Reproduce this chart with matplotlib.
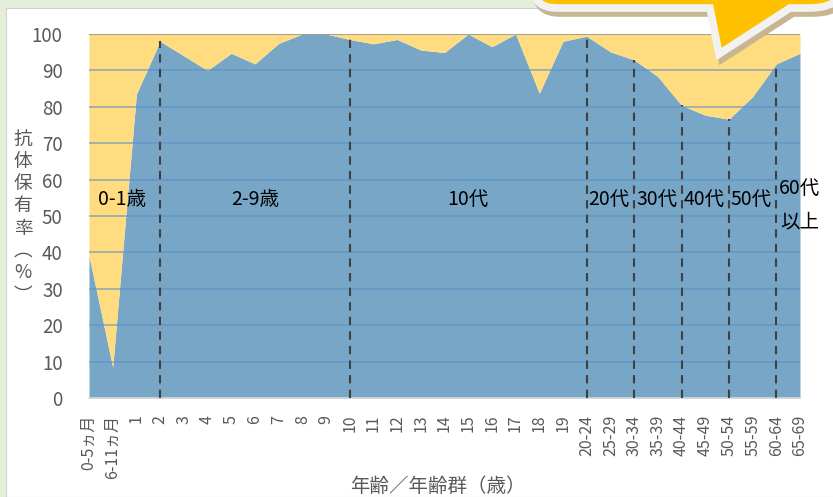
import matplotlib
matplotlib.use("Agg")
import matplotlib.pyplot as plt
from matplotlib.path import Path
from matplotlib.patches import PathPatch, Rectangle

plt.rcParams['font.family'] = ['Noto Sans CJK JP', 'DejaVu Sans']

# age groups on the x axis
ages = ["0-5ヵ月", "6-11ヵ月"] + [str(i) for i in range(1, 20)] + [
    "20-24", "25-29", "30-34", "35-39", "40-44",
    "45-49", "50-54", "55-59", "60-64", "65-69"]

# antibody positive rate (%)
rate = [39, 8.5, 83.5, 98, 94, 90, 94.7, 91.8, 97.4, 100, 100,
        98.5, 97.3, 98.5, 95.6, 94.9, 100, 96.5, 100, 83.7, 98,
        99.4, 95.1, 92.9, 88.3, 80.4, 77.7, 76.6, 82.8, 91.8, 94.7]

# group boundaries (index into ages) for the dashed drop lines
bounds = [3, 11, 21, 23, 25, 27, 29]

# group labels: (text, x position in category units, y value)
groups = [("0-1歳", 1.4, 54.5), ("2-9歳", 7.0, 54.5), ("10代", 16.0, 54.5),
          ("20代", 21.95, 54.5), ("30代", 23.95, 54.5), ("40代", 25.95, 54.5),
          ("50代", 27.95, 54.5), ("60代", 30.0, 57.5), ("以上", 30.0, 48.5)]

W, H = 833, 497
BLUE = "#78A6C6"
YELLOW = "#FFDC80"
GREY = "#595959"

fig = plt.figure(figsize=(W / 100, H / 100), dpi=100)
fig.patch.set_facecolor("#E3EFDA")
fig.patches.append(Rectangle((6 / W, 0), 1, 1 - 8 / H, transform=fig.transFigure,
                             facecolor="white", edgecolor="#D0D0D0", lw=0.8, zorder=-10))

ax = fig.add_axes([89 / W, 1 - 398 / H, 711 / W, 364 / H])
ax.set_facecolor("none")
x = list(range(len(ages)))
ax.fill_between(x, 0, rate, color=BLUE, lw=0, zorder=1)
ax.fill_between(x, rate, 100, color=YELLOW, lw=0, zorder=1)

for yv in range(10, 101, 10):
    ax.axhline(yv, color="#5B8FC8", alpha=0.55, lw=1.4, zorder=2)
ax.axhline(100, color="#A89F8A", lw=1.4, zorder=2)

for b in bounds:
    ax.vlines(b, 0, rate[b], colors="#404040", linestyles=(0, (4, 3)), lw=1.5, zorder=3)

for txt, gx, gy in groups:
    ax.text(gx, gy, txt, ha="center", va="center", fontsize=14, color="black",
            zorder=4, clip_on=False)

ax.set_xlim(0, len(ages) - 1)
ax.set_ylim(0, 100)
ax.set_yticks(range(0, 101, 10))
ax.set_xticks(x)
ax.set_xticklabels(ages, rotation=90, fontsize=11.5, color=GREY)
ax.tick_params(axis="y", length=0, pad=19, labelsize=13.5, labelcolor=GREY)
ax.tick_params(axis="x", length=0, pad=12)
for s in ["top", "right", "left"]:
    ax.spines[s].set_visible(False)
ax.spines["bottom"].set_color("#D9D9D9")
ax.spines["bottom"].set_linewidth(1.2)

fig.text(23 / W, 1 - 217 / H, "\n".join("抗体保有率︵%︶"), ha="center", va="center",
         fontsize=13.5, color=GREY, linespacing=1.08)
fig.text(438 / W, 1 - 486 / H, "年齢／年齢群（歳）", ha="center", va="center",
         fontsize=14, color=GREY)

# speech-bubble callout at the top right
def bubble(dx, dy):
    pts = [(533, -60), (533, -14), (533, 8), (557, 8), (710, 8), (719, 54),
           (790, 8), (810, 8), (850, 8), (850, -32), (850, -60), (533, -60)]
    codes = [Path.MOVETO, Path.LINETO, Path.CURVE3, Path.CURVE3, Path.LINETO,
             Path.LINETO, Path.LINETO, Path.LINETO, Path.CURVE3, Path.CURVE3,
             Path.LINETO, Path.CLOSEPOLY]
    verts = [((px + dx) / W, 1 - (py + dy) / H) for px, py in pts]
    return Path(verts, codes)

fig.patches.append(PathPatch(bubble(3, 5), transform=fig.transFigure,
                             facecolor="#C8B690", edgecolor="#C8B690", lw=5.5, zorder=5))
fig.patches.append(PathPatch(bubble(0, 0), transform=fig.transFigure,
                             facecolor="#FFC000", edgecolor="#F2F2F2", lw=5.5, zorder=6))

fig.savefig("out.png", dpi=100)
